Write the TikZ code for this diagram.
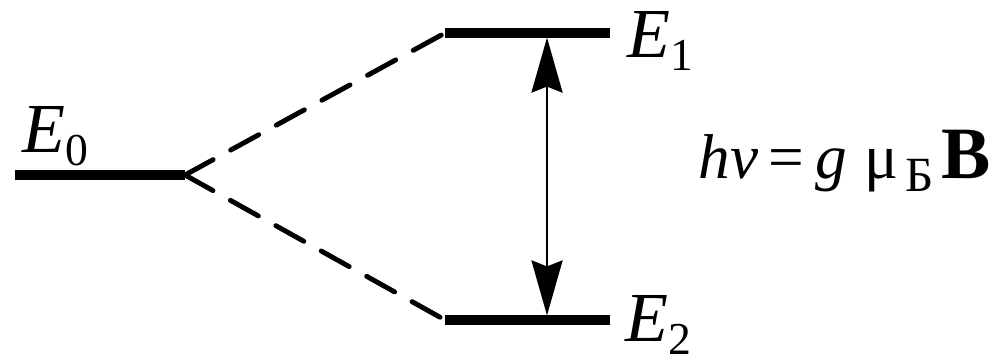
\documentclass[tikz,border=0pt]{standalone}
\usepackage{fontspec}
\setmainfont{LiberationSerif}[Extension=.ttf, UprightFont=*-Regular, ItalicFont=*-Italic,
  BoldFont=*-Bold, BoldItalicFont=*-BoldItalic]
\usetikzlibrary{arrows.meta}
\newcommand{\lvlname}[2]{\textit{#1}\raisebox{-0.13cm}{\fontsize{13}{15}\selectfont #2}}

\begin{document}
\begin{tikzpicture}[
    lvline/.style={line width=2.6pt},
    splitline/.style={line width=1.4pt, dash pattern=on 3.2mm off 2mm, line cap=round},
    lbl/.style={anchor=base west, inner sep=0pt, font=\fontsize{20}{24}\selectfont}]
  \useasboundingbox (0,0) rectangle (10,3.6);
  % levels
  \coordinate (e0a) at (0.15,1.85);
  \coordinate (e0b) at (1.85,1.85);
  \coordinate (e1a) at (4.45,3.27);
  \coordinate (e1b) at (6.10,3.27);
  \coordinate (e2a) at (4.45,0.40);
  \coordinate (e2b) at (6.10,0.40);
  \draw[lvline] (e0a) -- (e0b);
  \draw[lvline] (e1a) -- (e1b);
  \draw[lvline] (e2a) -- (e2b);
  \draw[splitline] (e0b) -- (e1a);
  \draw[splitline] (e0b) -- (e2a);
  % transition
  \coordinate (up) at (5.47,3.27);
  \coordinate (dn) at (5.47,0.40);
  \draw[line width=0.8pt, shorten <=1.3pt, shorten >=1.3pt,
        {Stealth[length=5.5mm,width=3.1mm,inset=0.6mm]}-{Stealth[length=5.5mm,width=3.1mm,inset=0.6mm]}]
    (dn) -- (up);
  % labels
  \node[lbl] (E0) at (0.22,2.08) {\lvlname{E}{0}};
  \node[lbl] (E1) at (6.27,3.03) {\lvlname{E}{1}};
  \node[lbl] (E2) at (6.25,0.19) {\lvlname{E}{2}};
  \node[lbl, font=\fontsize{18}{22}\selectfont] (hv) at (6.98,1.82)
    {\textit{hν}\,=\,\textit{g}\;μ\hspace{0.12em}\raisebox{-0.13cm}{\fontsize{14}{16}\selectfont Б}\hspace{0.12em}{\fontsize{21}{24}\selectfont\bfseries B}};
\end{tikzpicture}
\end{document}
